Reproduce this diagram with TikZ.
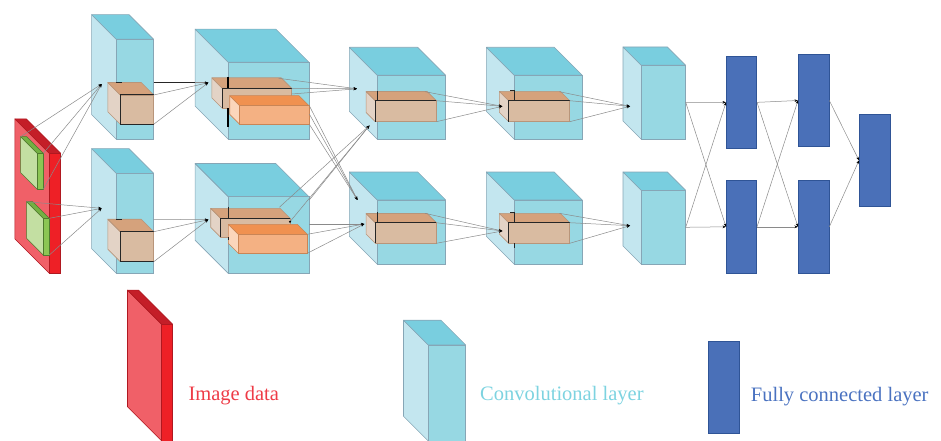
\documentclass[tikz,border=0pt]{standalone}
\usepackage{fontspec}
\setmainfont{Liberation Serif}
\usetikzlibrary{arrows.meta}
\definecolor{cubeF}{HTML}{97D8E3}
\definecolor{cubeS}{HTML}{C3E6EF}
\definecolor{cubeT}{HTML}{79CEDF}
\definecolor{cubeE}{HTML}{86A6B6}
\definecolor{begF}{HTML}{D9BBA1}
\definecolor{begS}{HTML}{E3D3C6}
\definecolor{begT}{HTML}{D5A27C}
\definecolor{begE}{HTML}{B8957A}
\definecolor{orgF}{HTML}{F4B183}
\definecolor{orgS}{HTML}{FBD6BB}
\definecolor{orgT}{HTML}{F09150}
\definecolor{orgE}{HTML}{C98556}
\definecolor{redF}{HTML}{EE2026}
\definecolor{redS}{HTML}{F06068}
\definecolor{redT}{HTML}{C41E28}
\definecolor{redE}{HTML}{B01820}
\definecolor{grnF}{HTML}{8CC654}
\definecolor{grnS}{HTML}{C3DFA2}
\definecolor{grnT}{HTML}{74B043}
\definecolor{grnE}{HTML}{4F7A2E}
\definecolor{fcF}{HTML}{4A70B8}
\definecolor{fcE}{HTML}{2F5496}
\definecolor{lnC}{HTML}{8A8A8A}
\definecolor{txRed}{HTML}{EE3B46}
\definecolor{txCyan}{HTML}{7DD3E0}
\definecolor{txBlue}{HTML}{4A72C0}
\newcommand\cub[6]{%
  \filldraw[fill=#6S,draw=#6E,line width=0.6pt,line join=round] (#1,#2) -- ({#1-#5},{#2-#5}) -- ({#1-#5},{#2+#4-#5}) -- (#1,{#2+#4}) -- cycle;
  \filldraw[fill=#6T,draw=#6E,line width=0.6pt,line join=round] (#1,#2) -- ({#1-#5},{#2-#5}) -- ({#1+#3-#5},{#2-#5}) -- ({#1+#3},#2) -- cycle;
  \filldraw[fill=#6F,draw=#6E,line width=0.6pt] (#1,#2) rectangle ({#1+#3},{#2+#4});
}
\tikzset{
  conn/.style={draw=lnC, line width=0.5pt, -{Stealth[length=3.5pt,width=2.6pt,black]}},
  blk/.style={draw=black!85, line width=1pt},
  fcbox/.style={draw=fcE, fill=fcF, line width=0.6pt},
  legtext/.style={anchor=base west, inner sep=0pt, font=\fontsize{20.5}{24}\selectfont}
}
\begin{document}
\begin{tikzpicture}[x=1pt,y=-1pt]
\useasboundingbox (0,0) rectangle (941,441);
% ---------- input image ----------
\cub{49.3}{153.3}{11.4}{120}{34.5}{red}
\cub{37.3}{153.3}{6}{36}{16.7}{grn}
\cub{43.3}{218.3}{6}{36.7}{16.7}{grn}
% ---------- conv1 ----------
\cub{116.3}{39.3}{37.4}{100}{24.7}{cube}
\cub{120.3}{95}{33.4}{29.3}{12.5}{beg}
\cub{116.3}{173.3}{37.4}{100}{24.7}{cube}
\cub{120.3}{231.7}{33.4}{30}{12.5}{beg}
\draw[blk] (153.7,95) -- (120.3,95) -- (120.3,124.3) -- (153.7,124.3);
\draw[blk] (153.7,231.7) -- (120.3,231.7) -- (120.3,261.7) -- (153.7,261.7);
\draw[blk] (116.3,82.7) -- (122,82.7);
\draw[blk] (116.3,219.3) -- (122,219.3);
% ---------- conv2 ----------
\cub{228.3}{62.3}{80.7}{77}{33.2}{cube}
\cub{222.3}{88.3}{69.4}{20}{10.5}{beg}
\cub{239.7}{105.7}{69.3}{18.6}{10}{org}
\cub{228.3}{196.7}{80.7}{76.7}{33.2}{cube}
\cub{220.7}{218.3}{69.3}{19}{10}{beg}
\cub{238.3}{234.3}{69}{19}{10}{org}
\draw[blk] (291.7,88.3) -- (222.3,88.3) -- (222.3,108.3);
\draw[draw=black, line width=1.6pt] (228,76.7) -- (228,88.3) (228,108.3) -- (228,127);
\draw[blk] (290,218.3) -- (220.7,218.3) -- (220.7,237);
\draw[blk] (228,206.7) -- (228,218.3) (228,237) -- (228,240);
% ---------- conv3 ----------
\cub{377.3}{75.3}{68.4}{64}{28}{cube}
\cub{375.3}{100.7}{61}{21}{9.2}{beg}
\cub{377.3}{200}{68.4}{64.3}{28}{cube}
\cub{375.3}{222.7}{61}{20.6}{9.2}{beg}
\draw[blk] (436.3,100.7) -- (375.3,100.7) -- (375.3,121.7);
\draw[blk] (436.3,222.7) -- (375.3,222.7) -- (375.3,243.3);
\draw[blk] (377.3,91) -- (377.3,100.7);
\draw[blk] (377.3,212) -- (377.3,222.7);
% ---------- conv4 ----------
\cub{514.3}{75.3}{68}{64}{28}{cube}
\cub{508.7}{100.7}{61}{21}{9.3}{beg}
\cub{514.3}{200}{68}{64.3}{28}{cube}
\cub{508.7}{222.7}{61}{20.6}{9.3}{beg}
\draw[blk] (569.7,100.7) -- (508.7,100.7) -- (508.7,121.7);
\draw[blk] (569.7,222.7) -- (508.7,222.7) -- (508.7,243.3);
\draw[blk] (514.3,90.5) -- (514.3,100.7) (510,90.5) -- (514.3,90.5);
\draw[blk] (514.3,212) -- (514.3,222.7) (514.3,243.3) -- (514.3,248) (510,212) -- (514.3,212);
% ---------- conv5 ----------
\cub{641.3}{65.3}{44.4}{74}{18.3}{cube}
\cub{641.3}{190.3}{44.4}{74}{18.3}{cube}
% ---------- fully connected ----------
\node[fcbox, minimum width=30.4pt, minimum height=92.7pt, inner sep=0pt] (fc1a) at (741.5,102.35) {};
\node[fcbox, minimum width=30.4pt, minimum height=93pt, inner sep=0pt] (fc1b) at (741.5,226.8) {};
\node[fcbox, minimum width=30.7pt, minimum height=92.4pt, inner sep=0pt] (fc2a) at (813.65,100.5) {};
\node[fcbox, minimum width=30.7pt, minimum height=93pt, inner sep=0pt] (fc2b) at (813.65,226.8) {};
\node[fcbox, minimum width=30.7pt, minimum height=92.7pt, inner sep=0pt] (fc3) at (874.65,160.35) {};
% ---------- coordinates ----------
\coordinate (dA1) at (101.7,84);
\coordinate (dB1) at (101.7,208.3);
\coordinate (dA2) at (208.3,82.7);
\coordinate (dB2) at (208.3,219.7);
\coordinate (dA3) at (357,88.8);
\coordinate (dA3b) at (369.5,125.5);
\coordinate (dB3) at (357.5,200);
\coordinate (dB3b) at (364.3,224);
\coordinate (dA4) at (502.3,106.3);
\coordinate (dB4) at (502.3,231);
\coordinate (dA5) at (630,106.3);
\coordinate (dB5) at (630,225.7);
\coordinate (c5a) at (685.7,102.3);
\coordinate (c5b) at (685.7,227.3);
% input -> conv1
\coordinate (g1a) at (20.7,136.7);
\coordinate (g1b) at (43.3,153.3);
\coordinate (g1c) at (43.3,189.3);
\coordinate (g2a) at (26.7,201.7);
\coordinate (g2b) at (49.3,218.3);
\coordinate (g2c) at (49.3,255);
\foreach \s in {g1a,g1b,g1c} \draw[conn] (\s) -- (dA1);
\foreach \s in {g2a,g2b,g2c} \draw[conn] (\s) -- (dB1);
% conv1 -> conv2
\coordinate (k1a) at (153.7,82.7);
\coordinate (k1b) at (153.7,95);
\coordinate (k1c) at (153.7,124.3);
\coordinate (k2a) at (153.7,219.3);
\coordinate (k2b) at (153.7,231.7);
\coordinate (k2c) at (153.7,261.7);
\foreach \s in {k1a,k1b,k1c} \draw[conn] (\s) -- (dA2);
\foreach \s in {k2a,k2b,k2c} \draw[conn] (\s) -- (dB2);
\draw[blk] (k1a) -- (195,82.7);
% conv2 -> conv3
\coordinate (m1a) at (278.7,78.3);
\coordinate (m1b) at (291.7,88.3);
\coordinate (m1c) at (291.7,94);
\coordinate (o1a) at (309.3,105.7);
\coordinate (o1b) at (309.3,114);
\coordinate (o1c) at (309.3,124.3);
\coordinate (m2a) at (279.3,207.3);
\coordinate (m2b) at (290,221.7);
\coordinate (m2c) at (309.3,200);
\coordinate (o2a) at (309.3,224);
\coordinate (o2b) at (307.3,234.3);
\coordinate (o2c) at (307.3,253.3);
\foreach \s in {m1a,m1b,m1c} \draw[conn] (\s) -- (dA3);
\foreach \s in {o1a,o1b,o1c} \draw[conn] (\s) -- (dB3);
\foreach \s in {m2a,m2b,m2c} \draw[conn] (\s) -- (dA3b);
\foreach \s in {o2a,o2b,o2c} \draw[conn] (\s) -- (dB3b);
\fill[black] (m2b) circle (1.2pt);
% conv3 -> conv4
\coordinate (p1a) at (425,91.7);
\coordinate (p1b) at (436.3,100.7);
\coordinate (p1c) at (436.3,121.7);
\coordinate (p2a) at (425,213.3);
\coordinate (p2b) at (436.3,222.7);
\coordinate (p2c) at (436.3,243.3);
\foreach \s in {p1a,p1b,p1c} \draw[conn] (\s) -- (dA4);
\foreach \s in {p2a,p2b,p2c} \draw[conn] (\s) -- (dB4);
% conv4 -> conv5
\coordinate (q1a) at (559.3,91.7);
\coordinate (q1b) at (569.7,100.7);
\coordinate (q1c) at (569.7,121.7);
\coordinate (q2a) at (559.3,213.3);
\coordinate (q2b) at (569.7,222.7);
\coordinate (q2c) at (569.7,243.3);
\foreach \s in {q1a,q1b,q1c} \draw[conn] (\s) -- (dA5);
\foreach \s in {q2a,q2b,q2c} \draw[conn] (\s) -- (dB5);
% conv5 -> fc1
\draw[conn] (c5a) -- (fc1a.west);
\draw[conn] (c5a) -- (fc1b.west);
\draw[conn] (c5b) -- (fc1b.west);
\draw[conn] (c5b) -- (fc1a.west);
% fc1 -> fc2
\draw[conn] (fc1a.east) -- (fc2a.west);
\draw[conn] (fc1a.east) -- (fc2b.west);
\draw[conn] (fc1b.east) -- (fc2b.west);
\draw[conn] (fc1b.east) -- (fc2a.west);
% fc2 -> fc3
\draw[conn] (fc2a.east) -- (fc3.west);
\draw[conn] (fc2b.east) -- (fc3.west);
% ---------- legend ----------
\cub{161.7}{324.3}{11}{116.7}{34.2}{red}
\node[legtext, text=txRed] (lg1) at (188.3,400.7) {Image data};
\cub{428.3}{345}{37.4}{96}{24.8}{cube}
\node[legtext, text=txCyan] (lg2) at (480,400.7) {Convolutional layer};
\node[fcbox, minimum width=30.7pt, minimum height=91.6pt, inner sep=0pt] (lg3box) at (723.65,387.5) {};
\node[legtext, text=txBlue] (lg3) at (750.7,401) {Fully connected layer};
\end{tikzpicture}
\end{document}
